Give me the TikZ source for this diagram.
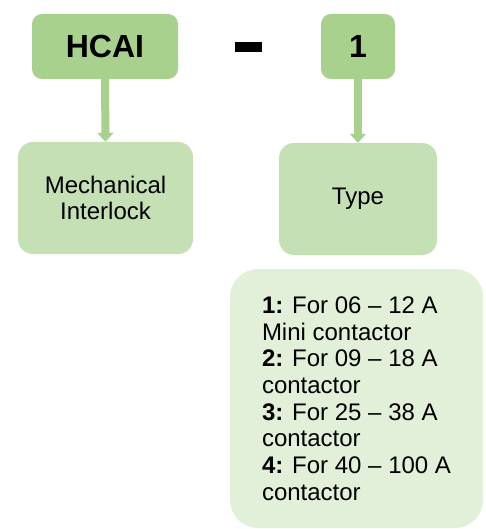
\documentclass[tikz,border=0pt]{standalone}
\usepackage{fontspec}
\setmainfont{Liberation Sans}
\usetikzlibrary{arrows.meta}
\definecolor{gdark}{HTML}{A9D18E}
\definecolor{gmid}{HTML}{C5E0B4}
\definecolor{glight}{HTML}{E2F0D9}
\tikzset{
  codebox/.style={fill=gdark, draw=none, rounded corners=10pt, inner sep=0pt,
    font=\fontsize{32}{36}\selectfont\bfseries},
  descbox/.style={fill=gmid, draw=none, rounded corners=15pt, inner sep=0pt, align=center,
    font=\fontsize{24}{26.7}\selectfont},
  listbox/.style={fill=glight, draw=none, rounded corners=28pt, inner sep=0pt, align=left,
    font=\fontsize{24}{26.7}\selectfont},
  conn/.style={draw=gdark, line width=8pt, -{Triangle[width=16pt,length=9pt]}}
}
\begin{document}
\begin{tikzpicture}[x=1pt,y=-1pt]
\useasboundingbox (0,0) rectangle (486,529);
\node[codebox, minimum width=146pt, minimum height=65pt] (hcai) at (105,46.5) {HCAI};
\node[codebox, minimum width=74pt, minimum height=65pt] (one) at (358,46.5) {1};
\node[fill=black, inner sep=0pt, minimum width=27pt, minimum height=10pt] (dash) at (248.5,47) {};
\node[descbox, minimum width=175pt, minimum height=112pt] (mech) at (105.5,198) {Mechanical\\Interlock};
\node[descbox, minimum width=158pt, minimum height=112pt] (type) at (358,199) {Type};
\node[listbox, minimum width=253pt, minimum height=259pt] (types) at (356.5,398.5) {%
\textbf{1:} For 06 – 12 A\\Mini contactor\\\textbf{2:} For 09 – 18 A\\contactor\\\textbf{3:} For 25 – 38 A\\contactor\\\textbf{4:} For 40 – 100 A\\contactor};
\draw[conn] (hcai.south) -- (mech.north);
\draw[conn] (one.south) -- (type.north);
\end{tikzpicture}
\end{document}
